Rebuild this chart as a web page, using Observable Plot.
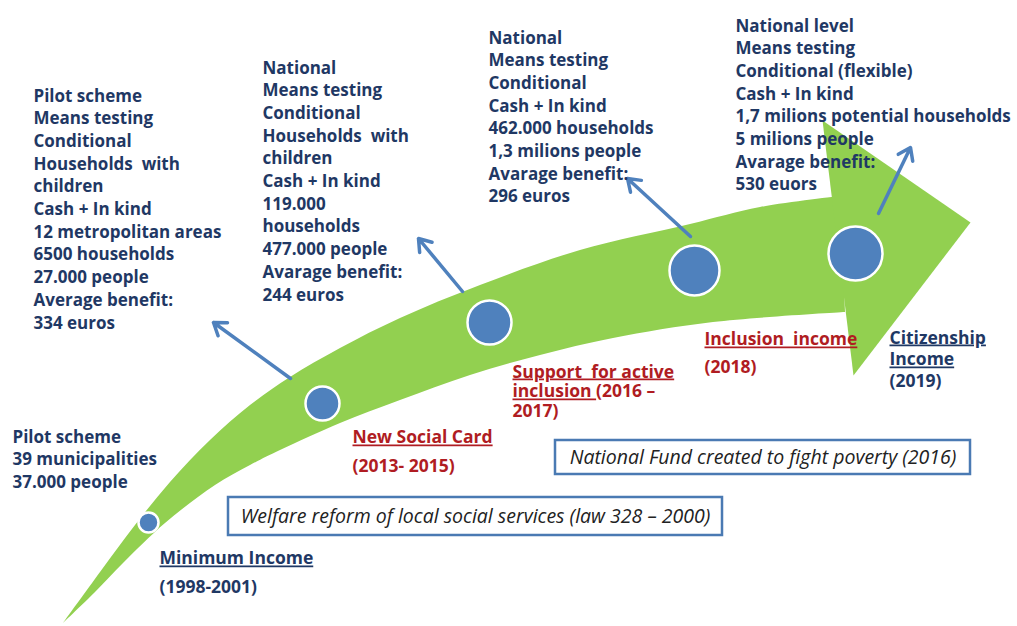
<!DOCTYPE html>
<html><head><meta charset="utf-8">
<script src="https://cdn.jsdelivr.net/npm/d3@7"></script>
<script src="https://cdn.jsdelivr.net/npm/@observablehq/plot@0.6"></script>
<style>
body{margin:0;background:#fff;}
#chart svg{display:block;}
</style>
</head><body><div id="chart"></div>
<script>
// ---- Diagram data (canvas coordinates of the timeline sketch) ----
// Green timeline arrow: upper and lower edges of the shaft, and the head
const shaftUpperX = [63,100,135,170,210,250,290,340,400,480,580,690,760,840];
const shaftUpperY = [623,572,525,482,440,405,377,348,318,285,250,224,207,196];
const shaftLowerX = [63,95,123,165,215,250,280,340,400,470,540,613,713,845];
const shaftLowerY = [623,592,563,523,485,465,450,423,400,375,355,338,322,312];
const headX = [822,970,853];
const headY = [120,222,375];

// Stages (blue dots)
const stageNames = ["Minimum Income","New Social Card","Support for active inclusion","Inclusion income","Citizenship Income"];
const stageX = [148,322,489,694,855];
const stageY = [522,403,322,270,253];
const stageSize = [10,17,22,25,27];

// Pointer arrows from stage to description
const pointerFromX = [290,462,690,878];
const pointerFromY = [378,291,236,213];
const pointerToX = [213,418,627,910];
const pointerToY = [322,238,178,147];

// Descriptions
const infoLines = [
  ["Pilot scheme","Means testing","Conditional","Households  with","children","Cash + In kind","12 metropolitan areas","6500 households","27.000 people","Average benefit:","334 euros"],
  ["National","Means testing","Conditional","Households  with","children","Cash + In kind","119.000","households","477.000 people","Avarage benefit:","244 euros"],
  ["National","Means testing","Conditional","Cash + In kind","462.000 households","1,3 milions people","Avarage benefit:","296 euros"],
  ["National level","Means testing","Conditional (flexible)","Cash + In kind","1,7 milions potential households","5 milions people","Avarage benefit:","530 euors"],
  ["Pilot scheme","39 municipalities","37.000 people"]
];
const infoX = [33,262,488,735,12];
const infoTop = [89,61,31,19,430];

// Stage labels (one multi-line label per stage)
const stageLabelLines = [
  ["Minimum Income","(1998-2001)"],
  ["New Social Card","(2013- 2015)"],
  ["Support\u00a0 for active","inclusion (2016 –","2017)"],
  ["Inclusion\u00a0 income","(2018)"],
  ["Citizenship","Income","(2019)"]
];
const stageLabelX = [159,352,512,704,889];
const stageLabelY = [558,437,371,339,337];
const stageLabelSpacing = [29,29,20,28,22];
const stageLabelGroup = ["minimum","transition","transition","transition","minimum"];
const underlinedLines = ["Minimum Income","New Social Card","Support\u00a0 for active","Inclusion\u00a0 income","Citizenship","Income"];
const partlyUnderlined = {line:"inclusion (2016 –", part:"inclusion"};

// Event boxes
const eventText = ["Welfare reform of local social services (law 328 – 2000)","National Fund created to fight poverty (2016)"];
const eventX1 = [228,555];
const eventX2 = [722,970];
const eventY1 = [497,440];
const eventY2 = [535,474];

// ---- Build tables ----
const shaft = shaftUpperX.map((x,i)=>({x1:x,y1:shaftUpperY[i],x2:shaftLowerX[i],y2:shaftLowerY[i]}));
const head = headX.map((x,i)=>({x,y:headY[i]}));
const stages = stageNames.map((name,i)=>({name,x:stageX[i],y:stageY[i],r:stageSize[i]}));
const pointers = pointerFromX.map((x,i)=>({x1:x,y1:pointerFromY[i],x2:pointerToX[i],y2:pointerToY[i]}));
const infos = infoLines.map((lines,i)=>({text:lines.join("\n"),x:infoX[i],y:infoTop[i]}));
const stageLabels = stageLabelLines.map((lines,i)=>({text:lines.join("\n"),x:stageLabelX[i],y:stageLabelY[i],group:stageLabelGroup[i],spacing:stageLabelSpacing[i]}));
const events = eventText.map((t,i)=>({text:t,x1:eventX1[i],x2:eventX2[i],y1:eventY1[i],y2:eventY2[i]}));

const navy = "#1F3864";
const red = "#B01C22";
const green = "#92D050";
const blue = "#4F81BD";
const font = "'Open Sans', sans-serif";
const labelSize = 17.5;
const infoSize = 17;
const infoSpacing = 22.7;

const chart = Plot.plot({
  width: 1017,
  height: 626,
  margin: 0,
  style: {fontFamily: font, background: "#fff"},
  x: {domain:[0,1017], range:[0,1017], axis:null},
  y: {domain:[0,626], range:[0,626], axis:null},
  r: {type:"identity"},
  color: {domain:["minimum","transition"], range:[navy, red]},
  marks: [
    Plot.area(shaft, {x1:"x1", y1:"y1", x2:"x2", y2:"y2", fill:green, curve:"catmull-rom"}),
    Plot.line(head, {x:"x", y:"y", fill:green, stroke:"none", curve:"linear-closed"}),
    Plot.dot(stages, {x:"x", y:"y", r:"r", fill:blue, stroke:"#fff", strokeWidth:2.5}),
    Plot.arrow(pointers, {x1:"x1", y1:"y1", x2:"x2", y2:"y2", stroke:blue, strokeWidth:3.5, headLength:6, headAngle:70}),
    Plot.text(infos, {x:"x", y:"y", text:"text", lineAnchor:"top", textAnchor:"start", dy:0.71*(infoSize-infoSpacing), fill:navy, fontSize:infoSize, fontWeight:"bold", lineHeight:infoSpacing/infoSize}),
    ...stageLabels.map(d => Plot.text([d], {x:"x", y:"y", text:"text", textAnchor:"start", lineAnchor:"top", dy:6 - 0.71*d.spacing, fill:"group", fontSize:labelSize, fontWeight:"bold", lineHeight:d.spacing/labelSize})),
    Plot.rect(events, {x1:"x1", x2:"x2", y1:"y1", y2:"y2", fill:"#fff", stroke:"#4A7AB3", strokeWidth:2.5}),
    Plot.text(events, {x:d=>(d.x1+d.x2)/2, y:d=>(d.y1+d.y2)/2, text:"text", fill:"#222", fontSize:19.5, fontStyle:"italic"})
  ]
});
const norm = s => s.replace(/[\s\u00a0]+/g," ").trim();
const uset = new Set(underlinedLines.map(norm));
d3.select(chart).selectAll("tspan, text").each(function(){
  if (this.tagName === "text" && this.querySelector("tspan")) return;
  const t = norm(this.textContent);
  if (uset.has(t)) d3.select(this).style("text-decoration","underline");
  else if (t === partlyUnderlined.line) {
    const rest = t.slice(partlyUnderlined.part.length);
    const sel = d3.select(this);
    sel.text(null);
    sel.append("tspan").style("text-decoration","underline").text(partlyUnderlined.part + "\u00a0");
    sel.append("tspan").text(rest.trim());
  }
});
document.getElementById("chart").appendChild(chart);
</script>
</body></html>
